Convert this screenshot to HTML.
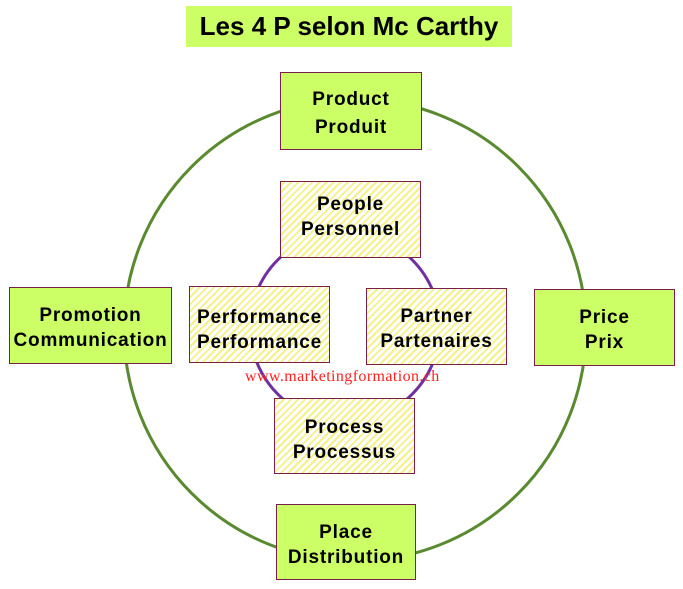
<!DOCTYPE html>
<html><head><style>
body{margin:0;width:683px;height:589px;background:#fff;position:relative;overflow:hidden;font-family:"Liberation Sans",sans-serif}
.b{position:absolute;box-sizing:border-box;border:1px solid #7a1f4a;display:flex;align-items:center;justify-content:center;text-align:center;font-weight:bold;font-size:19px;letter-spacing:0.8px;line-height:25px;color:#000}
.g{background:#ccff66}
.h{background:repeating-linear-gradient(-45deg,#fff 0 3px,#f6f08a 3px 5px)}
</style></head><body>
<svg width="683" height="589" style="position:absolute;left:0;top:0">
<circle cx="355" cy="330" r="231" fill="none" stroke="#5a8a30" stroke-width="3"/>
<circle cx="345" cy="327" r="95" fill="none" stroke="#7030a0" stroke-width="3"/>
</svg>
<div style="position:absolute;left:186px;top:6px;width:326px;height:41px;background:#ccff66;font-weight:bold;font-size:26px;line-height:41px;text-align:center">Les 4 P selon Mc Carthy</div>
<div class="b g" style="left:280px;top:72px;width:142px;height:78px;line-height:28px;padding-top:6px">Product<br>Produit</div>
<div class="b h" style="left:280px;top:181px;width:141px;height:77px;padding-bottom:6px">People<br>Personnel</div>
<div class="b h" style="left:189px;top:286px;width:141px;height:77px;padding-top:10px">Performance<br>Performance</div>
<div class="b h" style="left:366px;top:288px;width:141px;height:77px;padding-top:4px">Partner<br>Partenaires</div>
<div class="b h" style="left:274px;top:398px;width:141px;height:76px;padding-top:7px">Process<br>Processus</div>
<div class="b g" style="left:9px;top:287px;width:163px;height:77px;padding-top:4px">Promotion<br>Communication</div>
<div class="b g" style="left:534px;top:289px;width:141px;height:77px;padding-top:4px">Price<br>Prix</div>
<div class="b g" style="left:276px;top:504px;width:140px;height:76px;padding-top:6px">Place<br>Distribution</div>
<div style="position:absolute;left:245px;top:368px;font-family:'Liberation Serif',serif;font-size:16px;letter-spacing:0.4px;color:#ff2020">www.marketingformation.ch</div>
</body></html>
